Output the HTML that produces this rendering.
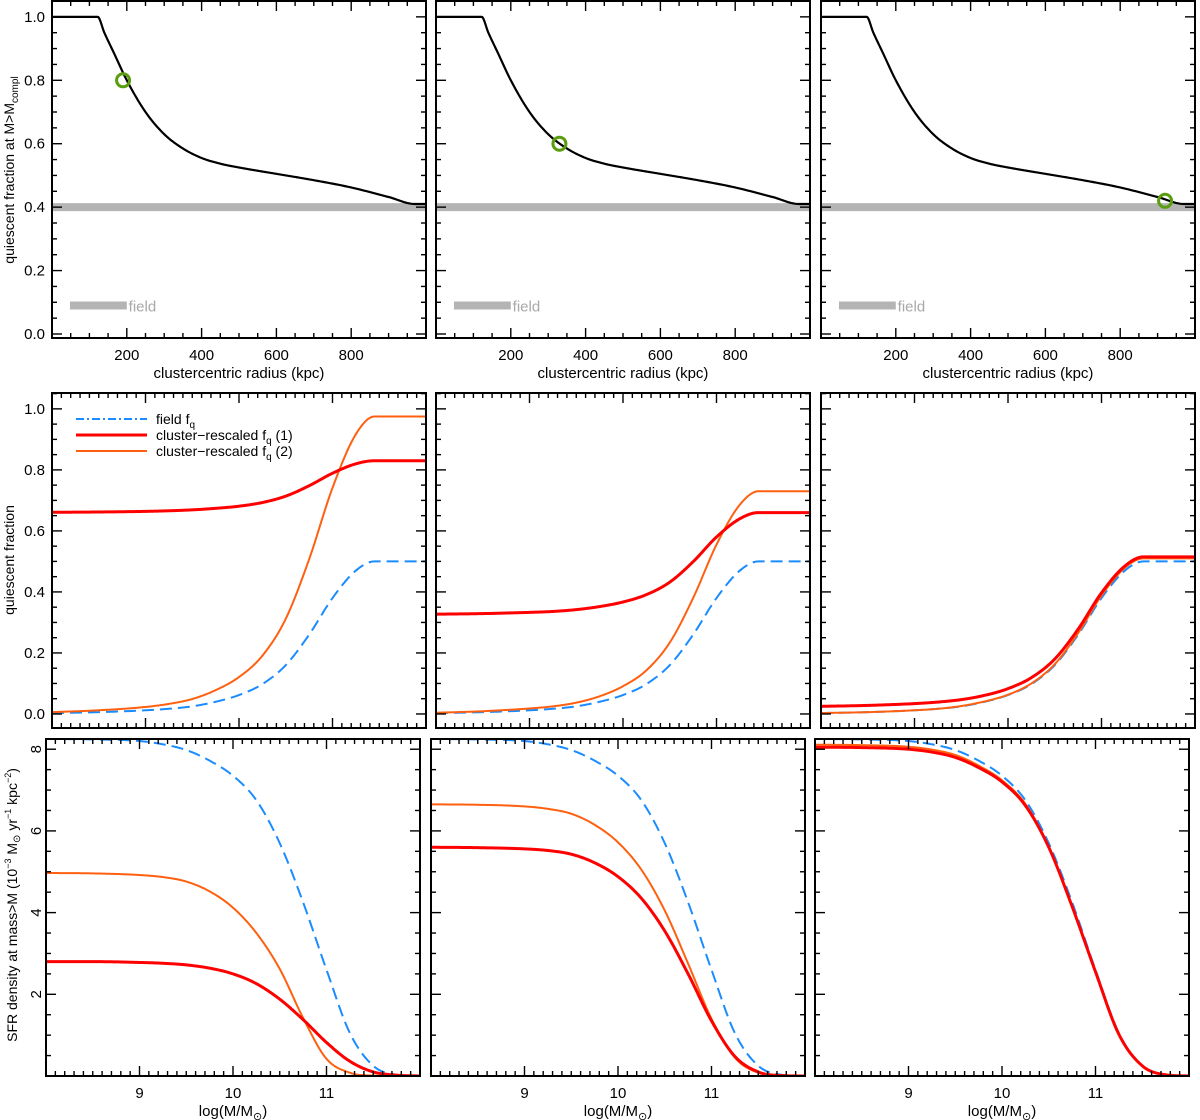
<!DOCTYPE html>
<html><head><meta charset="utf-8"><style>
html,body{margin:0;padding:0;background:#fff;}
svg{display:block;font-family:"Liberation Sans",sans-serif;}
</style></head><body>
<svg id="fig" width="1200" height="1120" viewBox="0 0 1200 1120"></svg>
<script>
// ---------- data ----------
const radiusKpc = [0, 122, 140, 166, 200, 250, 300, 350, 400, 450, 500, 600, 700, 800, 900, 970, 1000];
const fqRadius  = [1.0, 1.0, 0.95, 0.885, 0.80, 0.70, 0.63, 0.585, 0.555, 0.537, 0.525, 0.505, 0.485, 0.462, 0.432, 0.41, 0.41];
const fieldBand = 0.40;
const markerRadius = [190, 330, 920];
const markerFq = [0.80, 0.60, 0.42];

const massGridQ = [8, 8.5, 9, 9.25, 9.5, 9.75, 10, 10.25, 10.5, 10.75, 11, 11.25, 11.45, 12];
const fieldFq   = [0.003, 0.006, 0.012, 0.017, 0.025, 0.04, 0.062, 0.098, 0.16, 0.26, 0.38, 0.47, 0.5, 0.5];
const clus1Fq_A = [0.661, 0.662, 0.664, 0.666, 0.669, 0.674, 0.681, 0.693, 0.714, 0.748, 0.789, 0.820, 0.830, 0.830];
const clus2Fq_A = [0.006, 0.012, 0.023, 0.033, 0.049, 0.078, 0.121, 0.191, 0.312, 0.507, 0.741, 0.917, 0.975, 0.975];
const clus1Fq_B = [0.327, 0.329, 0.333, 0.336, 0.342, 0.352, 0.367, 0.391, 0.432, 0.499, 0.580, 0.640, 0.66, 0.66];
const clus2Fq_B = [0.004, 0.009, 0.018, 0.025, 0.037, 0.058, 0.091, 0.143, 0.234, 0.380, 0.555, 0.686, 0.73, 0.73];
const clus1Fq_C = [0.025, 0.028, 0.034, 0.039, 0.047, 0.061, 0.083, 0.119, 0.180, 0.278, 0.397, 0.485, 0.515, 0.515];
const clus2Fq_C = [0.003, 0.006, 0.012, 0.017, 0.026, 0.041, 0.063, 0.1, 0.163, 0.265, 0.388, 0.479, 0.51, 0.51];

const massGridS = [8, 8.5, 9, 9.25, 9.5, 9.75, 10, 10.25, 10.5, 10.75, 11, 11.25, 11.5, 11.75, 12];
const fieldSfr   = [8.25, 8.24, 8.2, 8.12, 7.98, 7.72, 7.35, 6.75, 5.7, 4.25, 2.6, 1.05, 0.25, 0.03, 0];
const clus1Sfr_A = [2.8, 2.8, 2.78, 2.76, 2.72, 2.64, 2.5, 2.26, 1.88, 1.38, 0.82, 0.36, 0.1, 0.02, 0];
const clus2Sfr_A = [4.97, 4.96, 4.92, 4.87, 4.76, 4.52, 4.12, 3.5, 2.62, 1.42, 0.42, 0.08, 0.01, 0, 0];
const clus1Sfr_B = [5.6, 5.59, 5.56, 5.52, 5.43, 5.22, 4.88, 4.35, 3.55, 2.5, 1.35, 0.48, 0.1, 0.01, 0];
const clus2Sfr_B = [6.65, 6.64, 6.6, 6.54, 6.42, 6.15, 5.72, 5.05, 4.05, 2.75, 1.4, 0.45, 0.08, 0.01, 0];
const clus1Sfr_C = [8.05, 8.04, 8.0, 7.93, 7.8, 7.55, 7.2, 6.62, 5.6, 4.15, 2.55, 1.02, 0.25, 0.03, 0];
const clus2Sfr_C = [8.11, 8.1, 8.06, 7.99, 7.86, 7.6, 7.24, 6.66, 5.62, 4.16, 2.56, 1.02, 0.25, 0.03, 0];

const yTicksQ = ["0.0","0.2","0.4","0.6","0.8","1.0"];
const xTicksR = ["200","400","600","800"];
const xTicksM = ["9","10","11"];
const yTicksS = ["2","4","6","8"];

// ---------- helpers ----------
const NS = "http://www.w3.org/2000/svg";
const svg = document.getElementById("fig");
function mk(tag, attrs, parent){
  const e = document.createElementNS(NS, tag);
  for (const k in attrs) e.setAttribute(k, attrs[k]);
  (parent||svg).appendChild(e);
  return e;
}
function monotone(xs, ys, n){
  const m = xs.length, d = [], t = new Array(m);
  for (let i=0;i<m-1;i++) d.push((ys[i+1]-ys[i])/(xs[i+1]-xs[i]));
  t[0]=d[0]; t[m-1]=d[m-2];
  for (let i=1;i<m-1;i++){ t[i] = (d[i-1]*d[i]<=0)?0:(d[i-1]+d[i])/2; }
  for (let i=0;i<m-1;i++){
    if (d[i]===0){t[i]=0;t[i+1]=0;continue;}
    const a=t[i]/d[i], b=t[i+1]/d[i], s=a*a+b*b;
    if (s>9){const tau=3/Math.sqrt(s); t[i]=tau*a*d[i]; t[i+1]=tau*b*d[i];}
  }
  const out=[];
  for (let i=0;i<m-1;i++){
    const h=xs[i+1]-xs[i];
    for (let k=0;k<n;k++){
      const s=k/n, s2=s*s, s3=s2*s;
      const y=(2*s3-3*s2+1)*ys[i]+(s3-2*s2+s)*h*t[i]+(-2*s3+3*s2)*ys[i+1]+(s3-s2)*h*t[i+1];
      out.push([xs[i]+s*h, y]);
    }
  }
  out.push([xs[m-1], ys[m-1]]);
  return out;
}

function makePanel(id, x0, y0, w, h, xmin, xmax, ymin, ymax){
  const g = mk("g", {});
  
  
  const clip = mk("clipPath", {id: "clip-"+id}, g);
  mk("rect", {x:x0, y:y0, width:w, height:h}, clip);
  const sx = v => x0 + (v - xmin) / (xmax - xmin) * w;
  const sy = v => y0 + h - (v - ymin) / (ymax - ymin) * h;
  const plot = mk("g", {"clip-path":"url(#clip-"+id+")"}, g);
  return {g, plot, sx, sy, x0, y0, w, h, xmin, xmax, ymin, ymax};
}
function frame(P, xMaj, xMin, yMaj, yMin){
  const ax = mk("g", {stroke:"#000", fill:"none"}, P.g);
  
  
  const nx = Math.round((P.xmax - P.xmin) / xMin);
  const startX = Math.ceil(P.xmin / xMin - 1e-6);
  for (let i = startX; i * xMin <= P.xmax + 1e-6; i++){
    const v = i * xMin;
    const isMaj = Math.abs(v/xMaj - Math.round(v/xMaj)) < 1e-4;
    const L = isMaj ? 10 : 5, x = P.sx(v);
    if (x <= P.x0 + 0.5 || x >= P.x0 + P.w - 0.5) continue;
    mk("line", {x1:x, x2:x, y1:P.y0+P.h, y2:P.y0+P.h-L, "stroke-width":1.4}, ax);
    mk("line", {x1:x, x2:x, y1:P.y0, y2:P.y0+L, "stroke-width":1.4}, ax);
  }
  const startY = Math.ceil(P.ymin / yMin - 1e-6);
  for (let i = startY; i * yMin <= P.ymax + 1e-6; i++){
    const v = i * yMin;
    const isMaj = Math.abs(v/yMaj - Math.round(v/yMaj)) < 1e-4;
    const L = isMaj ? 10 : 5, y = P.sy(v);
    if (y <= P.y0 + 0.5 || y >= P.y0 + P.h - 0.5) continue;
    mk("line", {x1:P.x0, x2:P.x0+L, y1:y, y2:y, "stroke-width":1.4}, ax);
    mk("line", {x1:P.x0+P.w, x2:P.x0+P.w-L, y1:y, y2:y, "stroke-width":1.4}, ax);
  }
  mk("rect", {x:P.x0, y:P.y0, width:P.w, height:P.h, "stroke-width":2}, ax);
}
function curve(P, xs, ys, style, name){
  const pts = monotone(xs, ys, 20);
  const d = "M" + pts.map(p => P.sx(p[0]).toFixed(2)+","+P.sy(p[1]).toFixed(2)).join("L");
  const e = mk("path", Object.assign({d, fill:"none", "stroke-linejoin":"round"}, style), P.plot);
  
  
}
function text(str, x, y, attrs, name, parent){
  const e = mk("text", Object.assign({x, y, "font-size":15, fill:"#000"}, attrs||{}), parent);
  e.textContent = str;
  
  
  return e;
}

const BLUE = {stroke:"#1a8cff", "stroke-width":2, "stroke-dasharray":"12 6"};
const RED = {stroke:"#ff0000", "stroke-width":3};
const ORANGE = {stroke:"#ff6010", "stroke-width":2};

const colX12 = [52, 436, 821];
const colX3 = [46, 431, 815];
const W = 374;

// ---------- row 1 ----------
colX12.forEach((x0, c) => {
  const P = makePanel("radius-panel-"+(c+1), x0, 1, W, 337, 0, 1000, -0.0126, 1.05);
  const band = mk("line", {x1:P.sx(0), x2:P.sx(1000), y1:P.sy(fieldBand), y2:P.sy(fieldBand), stroke:"#b4b4b4", "stroke-width":8}, P.plot);
  
  
  const sw = mk("line", {x1:P.sx(48), x2:P.sx(200), y1:P.sy(0.09), y2:P.sy(0.09), stroke:"#b4b4b4", "stroke-width":8}, P.plot);
  
  
  text("field", P.sx(205), P.sy(0.09)+6, {fill:"#a8a8a8", "font-size":15}, "field-legend-label", P.g);
  curve(P, radiusKpc, fqRadius, {stroke:"#000", "stroke-width":2.2}, "fq-radius-curve");
  const circ = mk("circle", {cx:P.sx(markerRadius[c]), cy:P.sy(markerFq[c]), r:6.5, fill:"none", stroke:"#5a9e10", "stroke-width":3}, P.plot);
  
  
  frame(P, 200, 50, 0.2, 0.05);
  xTicksR.forEach(t => text(t, P.sx(+t), 360, {"text-anchor":"middle"}, "x-tick-label", P.g));
  text("clustercentric radius (kpc)", x0 + W/2, 378, {"text-anchor":"middle"}, "x-axis-title", P.g);
  if (c===0) yTicksQ.forEach(t => text(t, 45, P.sy(+t)+5, {"text-anchor":"end"}, "y-tick-label", P.g));
});
{
  const t = text("", 0, 0, {transform:"translate(14,170) rotate(-90)", "text-anchor":"middle", "font-size":14}, "y-axis-title-row1");
  t.innerHTML = 'quiescent fraction at M&gt;M<tspan font-size="10" dy="4">compl</tspan>';
}

// ---------- row 2 ----------
const q1 = [clus1Fq_A, clus1Fq_B, clus1Fq_C], q2 = [clus2Fq_A, clus2Fq_B, clus2Fq_C];
colX12.forEach((x0, c) => {
  const P = makePanel("fq-mass-panel-"+(c+1), x0, 393, W, 335, 8, 12, -0.046, 1.052);
  curve(P, massGridQ, fieldFq, BLUE, "field-fq-curve");
  curve(P, massGridQ, q2[c], ORANGE, "cluster-fq-2-curve");
  curve(P, massGridQ, q1[c], RED, "cluster-fq-1-curve");
  frame(P, 1, 0.1, 0.2, 0.05);
  if (c===0) {
    yTicksQ.forEach(t => text(t, 45, P.sy(+t)+5, {"text-anchor":"end"}, "y-tick-label", P.g));
    const lg = mk("g", {}, P.g);
    
    
    mk("line",{x1:76,x2:147,y1:419,y2:419,stroke:"#1a8cff","stroke-width":2,"stroke-dasharray":"8 3 2 3"},lg);
    mk("line",{x1:76,x2:147,y1:435,y2:435,stroke:"#ff0000","stroke-width":3},lg);
    mk("line",{x1:76,x2:147,y1:451,y2:451,stroke:"#ff6010","stroke-width":2},lg);
    const a = text("",156,424,{"font-size":14},"legend-entry-field",lg);
    a.innerHTML='field f<tspan font-size="10" dy="4">q</tspan>';
    const b = text("",156,440,{"font-size":14},"legend-entry-cluster-1",lg);
    b.innerHTML='cluster−rescaled f<tspan font-size="10" dy="4">q</tspan><tspan dy="-4"> (1)</tspan>';
    const cc = text("",156,456,{"font-size":14},"legend-entry-cluster-2",lg);
    cc.innerHTML='cluster−rescaled f<tspan font-size="10" dy="4">q</tspan><tspan dy="-4"> (2)</tspan>';
  }
});
text("quiescent fraction", 0, 0, {transform:"translate(14,560) rotate(-90)", "text-anchor":"middle", "font-size":14}, "y-axis-title-row2");

// ---------- row 3 ----------
const s1 = [clus1Sfr_A, clus1Sfr_B, clus1Sfr_C], s2 = [clus2Sfr_A, clus2Sfr_B, clus2Sfr_C];
colX3.forEach((x0, c) => {
  const P = makePanel("sfr-panel-"+(c+1), x0, 739, W, 337, 8, 12, 0, 8.25);
  curve(P, massGridS, fieldSfr, BLUE, "field-sfr-curve");
  curve(P, massGridS, s2[c], ORANGE, "cluster-sfr-2-curve");
  curve(P, massGridS, s1[c], RED, "cluster-sfr-1-curve");
  frame(P, 1, 0.1, 2, 0.5);
  xTicksM.forEach(t => text(t, P.sx(+t), 1098, {"text-anchor":"middle"}, "x-tick-label", P.g));
  const xt = text("", x0 + W/2, 1116, {"text-anchor":"middle"}, "x-axis-title", P.g);
  xt.innerHTML = 'log(M/M<tspan font-size="11" dy="4">⊙</tspan><tspan dy="-4">)</tspan>';
  if (c===0) yTicksS.forEach(t => text(t, 0, 0, {transform:`translate(41,${P.sy(+t)}) rotate(-90)`, "text-anchor":"middle"}, "y-tick-label", P.g));
});
{
  const t = text("", 0, 0, {transform:"translate(17,905) rotate(-90)", "text-anchor":"middle", "font-size":14}, "y-axis-title-row3");
  t.innerHTML = 'SFR density at mass&gt;M (10<tspan font-size="9" dy="-6">−3</tspan><tspan dy="6"> M</tspan><tspan font-size="10" dy="3">⊙</tspan><tspan dy="-3"> yr</tspan><tspan font-size="9" dy="-6">−1</tspan><tspan dy="6"> kpc</tspan><tspan font-size="9" dy="-6">−2</tspan><tspan dy="6">)</tspan>';
}
</script>
</body></html>
